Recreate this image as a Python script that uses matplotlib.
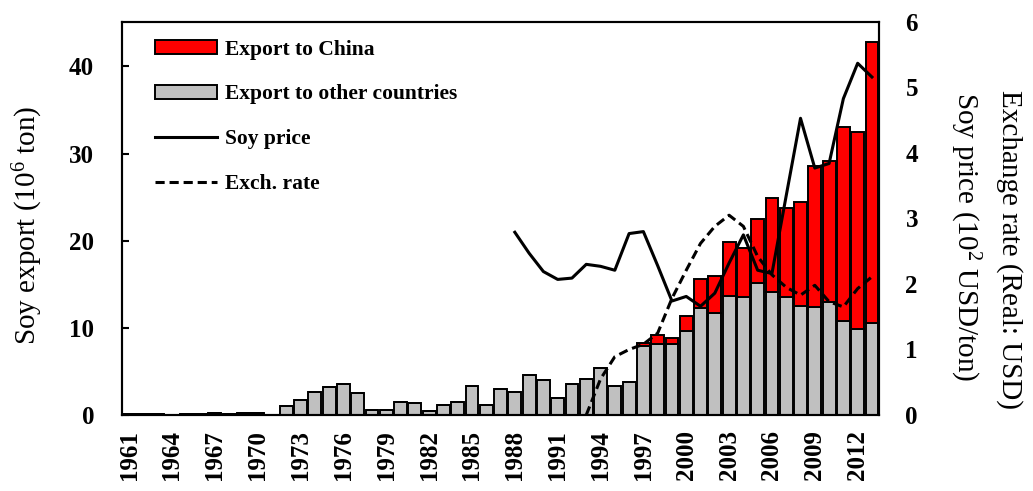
import matplotlib.pyplot as plt
import numpy as np
from matplotlib.patches import Patch
from matplotlib.lines import Line2D

plt.rcParams['font.family'] = ['Liberation Serif', 'DejaVu Serif']
plt.rcParams['mathtext.fontset'] = 'custom'
plt.rcParams['mathtext.rm'] = 'Liberation Serif'
plt.rcParams['mathtext.default'] = 'regular'

# soy export, 10^6 ton
years = np.arange(1961, 2014)
other = [0.1, 0.1, 0.1, 0.02, 0.1, 0.1, 0.2, 0.1, 0.2, 0.2, 0.05,
         1.0, 1.7, 2.6, 3.2, 3.6, 2.5, 0.6, 0.6, 1.5, 1.4, 0.5, 1.2, 1.5,
         3.3, 1.2, 3.0, 2.6, 4.6, 4.0, 1.9, 3.6, 4.1, 5.4, 3.3, 3.8,
         7.9, 8.2, 8.1, 9.6, 12.3, 11.7, 13.6, 13.5, 15.2, 14.1, 13.5,
         12.5, 12.4, 13.0, 10.8, 9.9, 10.5]
china = [0.0] * 36 + [0.4, 1.0, 0.7, 1.8, 3.3, 4.2, 6.2, 5.7, 7.3, 10.8,
                      10.3, 11.9, 16.2, 16.1, 22.3, 22.6, 32.3]

# soy price, 10^2 USD/ton
price_years = np.arange(1988, 2014)
price = [2.79, 2.47, 2.19, 2.07, 2.09, 2.30, 2.27, 2.21, 2.77, 2.80,
         2.28, 1.74, 1.81, 1.66, 1.86, 2.32, 2.75, 2.21, 2.16, 3.35,
         4.53, 3.77, 3.84, 4.83, 5.37, 5.16]

# exchange rate (Real: USD)
rate_years = np.arange(1993, 2014)
rate = [0.0, 0.55, 0.89, 1.0, 1.08, 1.25, 1.78, 2.21, 2.62, 2.88, 3.05,
        2.88, 2.42, 2.14, 1.95, 1.83, 1.98, 1.73, 1.65, 1.93, 2.11]

fig = plt.figure(figsize=(10.33, 4.91), dpi=100)
ax = fig.add_axes([0.1181, 0.1548, 0.7329, 0.8004])

ax.bar(years, other, width=0.9, color='#c0c0c0', edgecolor='black', linewidth=1.4)
ax.bar(years, china, width=0.9, bottom=other, color='#ff0000',
       edgecolor='black', linewidth=1.4)
ax.set_xlim(1960.5, 2013.5)
ax.set_ylim(0, 45.1)
ax.set_yticks([0, 10, 20, 30, 40])
ax.set_xticks(np.arange(1961, 2014, 3))
ax.set_xticklabels([str(y) for y in range(1961, 2014, 3)], rotation=90)
ax.tick_params(axis='y', direction='in', length=5, width=1.5, pad=20,
               labelsize=18)
ax.tick_params(axis='x', length=0, pad=11, labelsize=18)
for lab in ax.get_xticklabels() + ax.get_yticklabels():
    lab.set_fontweight('bold')

ax2 = ax.twinx()
ax2.plot(price_years, price, color='black', lw=2.2)
ax2.plot(rate_years, rate, color='black', lw=2.2, linestyle=(0, (3, 1.6)))
ax2.set_ylim(0, 6)
ax2.set_yticks(range(7))
ax2.tick_params(axis='y', length=0, pad=19, labelsize=18)
for lab in ax2.get_yticklabels():
    lab.set_fontweight('bold')

for a in (ax, ax2):
    for s in a.spines.values():
        s.set_linewidth(1.5)

fig.text(0.027, 0.542, 'Soy export (10$^6$ ton)', rotation=90,
         ha='center', va='center', fontsize=21)
fig.text(0.977, 0.491, 'Exchange rate (Real: USD)', rotation=270,
         ha='center', va='center', fontsize=21)
fig.text(0.934, 0.517, 'Soy price (10$^2$ USD/ton)', rotation=270,
         ha='center', va='center', fontsize=21)

handles = [Patch(facecolor='#ff0000', edgecolor='black', linewidth=1.4),
           Patch(facecolor='#c0c0c0', edgecolor='black', linewidth=1.4),
           Line2D([], [], color='black', lw=2.2),
           Line2D([], [], color='black', lw=2.2, linestyle=(0, (3, 1.6)))]
labels = ['Export to China', 'Export to other countries', 'Soy price', 'Exch. rate']
ax2.legend(handles, labels, loc='upper left', bbox_to_anchor=(0.043, 0.955),
           frameon=False, borderpad=0, borderaxespad=0, handlelength=2.9,
           handleheight=0.63, handletextpad=0.35, labelspacing=1.15,
           prop={'weight': 'bold', 'size': 15.5})

fig.savefig('out.png', dpi=100)
